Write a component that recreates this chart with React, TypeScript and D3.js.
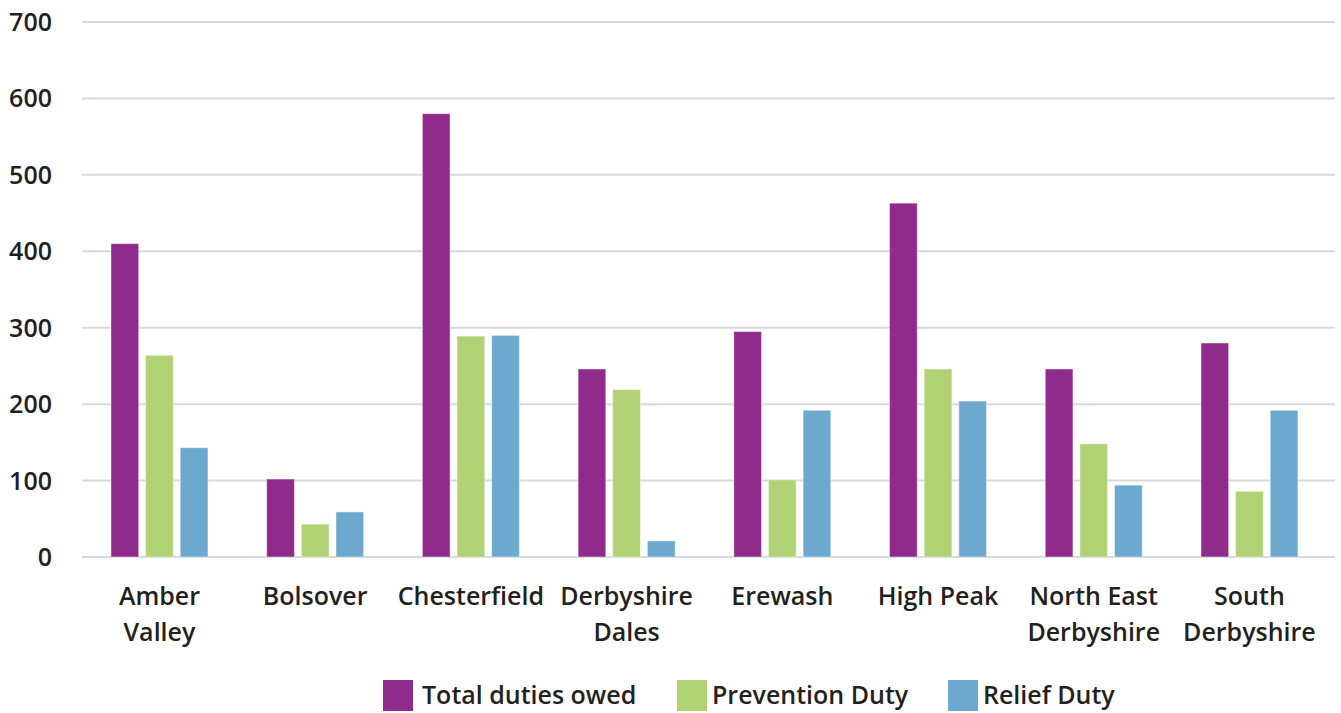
import React from 'react';
import * as d3 from 'd3';

const districts = [
  ['Amber', 'Valley'],
  ['Bolsover'],
  ['Chesterfield'],
  ['Derbyshire', 'Dales'],
  ['Erewash'],
  ['High Peak'],
  ['North East', 'Derbyshire'],
  ['South', 'Derbyshire'],
];
const seriesNames = ['Total duties owed', 'Prevention Duty', 'Relief Duty'];
const totalDuties = [410, 102, 580, 246, 295, 463, 246, 280];
const preventionDuty = [264, 43, 289, 219, 101, 246, 148, 86];
const reliefDuty = [143, 59, 290, 21, 192, 204, 94, 192];
const yTicks = [0, 100, 200, 300, 400, 500, 600, 700];
const colors = ['#8F2C8B', '#B0D274', '#6DA9CF'];

const W = 1341;
const H = 713;
const left = 82;
const right = 1335;
const top = 22;
const bottom = 557;
const font = '"Open Sans", "Noto Sans", sans-serif';

const App: React.FC = () => {
  const series = [totalDuties, preventionDuty, reliefDuty];

  // category bands (gridlines run a bit further than the last band)
  const x = d3.scaleBand<number>()
    .domain(districts.map((_, i) => i))
    .range([81.6, 1327.3]);

  const inner = d3.scaleBand<number>()
    .domain([0, 1, 2])
    .range([-48.5, 48.5])
    .paddingInner(0.2);

  const y = d3.scaleLinear().domain([0, 700]).range([bottom, top]);

  // legend swatch x and text x
  const legendX = [383, 677, 948];
  const legendTextX = [422, 712, 983];

  return (
    <svg width={W} height={H} style={{ position: 'absolute', left: 0, top: 0, background: '#fff' }}>
      {yTicks.map(t => (
        <line key={t} x1={left} x2={right} y1={y(t)} y2={y(t)} stroke="#D6D9E0" strokeWidth={2} />
      ))}
      {yTicks.map(t => (
        <text key={'l' + t} x={52} y={y(t)} dy="0.36em" textAnchor="end"
          fontFamily={font} fontWeight={600} fontSize={25} fill="#231F20">{t}</text>
      ))}
      {districts.map((_, i) => {
        const cx = (x(i) || 0) + x.bandwidth() / 2;
        return (
          <g key={i}>
            {series.map((s, j) => (
              <rect key={j}
                x={cx + (inner(j) || 0)}
                width={inner.bandwidth()}
                y={y(s[i])}
                height={y(0) - y(s[i])}
                fill={colors[j]}
                stroke="#fff" strokeOpacity={0.45} strokeWidth={1} />
            ))}
          </g>
        );
      })}
      {districts.map((lines, i) => {
        const cx = (x(i) || 0) + x.bandwidth() / 2;
        return (
          <text key={'c' + i} x={cx} y={605} textAnchor="middle"
            fontFamily={font} fontWeight={600} fontSize={25} fill="#231F20">
            {lines.map((ln, k) => (
              <tspan key={k} x={cx} dy={k === 0 ? 0 : 36}>{ln}</tspan>
            ))}
          </text>
        );
      })}
      {seriesNames.map((name, j) => (
        <g key={'g' + j}>
          <rect x={legendX[j]} y={680} width={30} height={31} fill={colors[j]} />
          <text x={legendTextX[j]} y={704} fontFamily={font} fontWeight={600}
            fontSize={25} fill="#231F20">{name}</text>
        </g>
      ))}
    </svg>
  );
};

export default App;
